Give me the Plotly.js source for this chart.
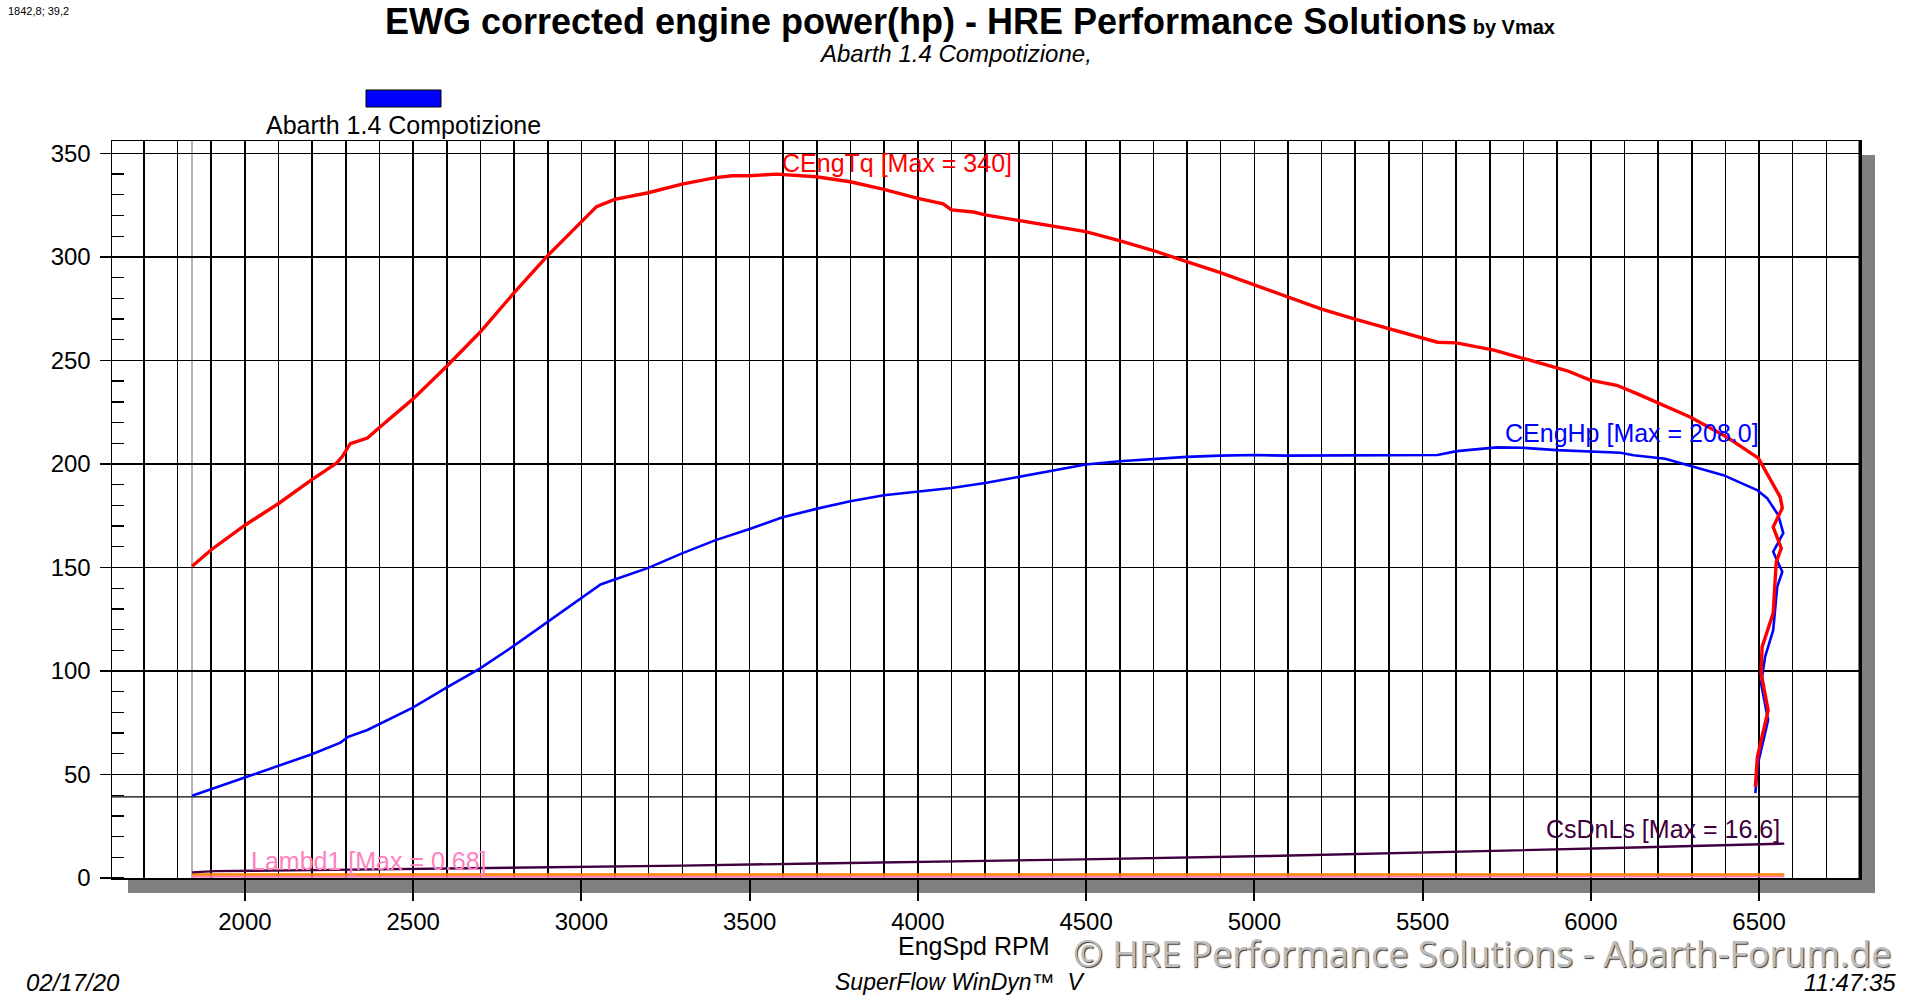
<!DOCTYPE html>
<html>
<head>
<meta charset="utf-8">
<script src="https://cdn.plot.ly/plotly-3.0.1.min.js"></script>
<style>
  body { margin: 0; background: #fff; overflow: hidden; }
  #tester { width: 1920px; height: 996px; }
</style>
</head>
<body>
<div id="tester"></div>
<script>
// engine speed / torque run (accel up to 6570 then rundown)
let tq_rpm = [1843, 1901, 2000, 2100, 2199, 2273, 2290, 2313, 2364, 2398, 2499, 2599, 2698, 2799, 2899, 2998, 3045, 3099, 3199, 3299, 3399, 3449, 3500, 3580, 3698, 3799, 3899, 4000, 4075, 4100, 4165, 4200, 4300, 4399, 4499, 4599, 4700, 4799, 4899, 5000, 5099, 5200, 5299, 5399, 5500, 5544, 5600, 5712, 5821, 5930, 5998, 6077, 6137, 6295, 6404, 6498, 6563, 6569, 6542, 6566, 6551, 6542, 6509, 6506, 6527, 6495, 6489];
let tq_val = [150.6, 158.7, 170.4, 180.9, 192.4, 200.5, 203.7, 209.8, 212.5, 217.4, 231.3, 247.1, 263.5, 282.5, 300.5, 317, 324.3, 327.8, 331, 335.2, 338.3, 339.2, 339.2, 340, 338.7, 336.3, 332.6, 328.3, 325.6, 322.7, 321.7, 320.3, 317.5, 315, 312.2, 307.9, 303.1, 297.7, 292.4, 286.5, 280.9, 274.8, 270, 265.3, 260.5, 258.8, 258.5, 255, 250, 245, 240.5, 238, 234, 222.7, 213, 202.8, 184, 178.7, 169.5, 159.3, 152.6, 128, 111.5, 99, 81, 58.4, 44];

let hp_rpm = [1843, 1901, 2000, 2100, 2199, 2284, 2307, 2364, 2400, 2499, 2599, 2698, 2799, 2899, 2998, 3057, 3099, 3199, 3299, 3399, 3500, 3598, 3698, 3799, 3899, 4000, 4100, 4200, 4300, 4399, 4499, 4599, 4700, 4799, 4899, 5000, 5099, 5299, 5500, 5544, 5602, 5721, 5800, 5899, 6088, 6127, 6221, 6296, 6394, 6494, 6524, 6557, 6572, 6542, 6569, 6554, 6542, 6518, 6506, 6527, 6497, 6489];
let hp_val = [39.7, 43, 48.6, 54.2, 59.8, 65.4, 68.2, 71.5, 74.3, 82.3, 92, 101.1, 112.1, 123.6, 134.9, 141.8, 144.2, 149.8, 156.8, 163.2, 168.6, 174.3, 178.3, 182, 184.9, 186.5, 188.4, 190.8, 193.7, 196.5, 199.7, 201.3, 202.4, 203.4, 204, 204.3, 204, 204, 204, 204.3, 206.2, 208, 207.8, 206.7, 205.4, 204.2, 202.5, 199, 194.6, 187.4, 183.5, 175.3, 166.6, 157.6, 147.9, 140.7, 119.7, 106.9, 94, 76.3, 55.5, 41];

let cs_rpm = [1843, 1910, 2200, 2450, 2700, 2930, 3300, 3700, 4080, 4490, 5040, 5590, 6130, 6575];
let cs_val = [2.7, 3.3, 3.8, 4.3, 4.6, 5.0, 6.0, 7.0, 7.9, 9.0, 10.6, 12.6, 14.7, 16.6];

let lambda_rpm = [1843, 3000, 4500, 6575];
let lambda_val = [0.62, 0.64, 0.66, 0.68];

let orange_rpm = [1843, 3000, 4500, 6575];
let orange_val = [1.7, 1.7, 1.7, 1.7];

let x_ticks = [2000, 2500, 3000, 3500, 4000, 4500, 5000, 5500, 6000, 6500];
let y_ticks = [0, 50, 100, 150, 200, 250, 300, 350];

let cursor = { rpm: 1842.8, val: 39.2 };

const FONT = 'Liberation Sans, Arial, sans-serif';

// plot area in px (1920x996 page)
const L = 112, R = 1860, T = 141, B = 878;
function px(x) { return (x - L) / (R - L); }
function py(y) { return (B - y) / (B - T); }

function PlotDyno() {

    let pink = {
        x: lambda_rpm, y: lambda_val, mode: 'lines', name: 'Lambd1',
        line: { color: '#ff80c0', width: 2 }
    };
    let orange = {
        x: orange_rpm, y: orange_val, mode: 'lines', name: 'aux',
        line: { color: '#ff8000', width: 2.5 }
    };
    let csdn = {
        x: cs_rpm, y: cs_val, mode: 'lines', name: 'CsDnLs',
        line: { color: '#400040', width: 2.4 }
    };
    let hp = {
        x: hp_rpm, y: hp_val, mode: 'lines', name: 'CEngHp',
        line: { color: '#0000ff', width: 2.6 }
    };
    let tq = {
        x: tq_rpm, y: tq_val, mode: 'lines', name: 'CEngTq',
        line: { color: '#ff0000', width: 3.4 }
    };

    let data = [pink, orange, csdn, hp, tq];

    let layout = {
        width: 1920,
        height: 996,
        margin: { l: L, r: 1920 - R, t: T, b: 996 - B, pad: 0 },
        paper_bgcolor: '#ffffff',
        plot_bgcolor: '#ffffff',
        showlegend: false,
        font: { family: FONT, color: '#000', size: 23 },
        xaxis: {
            range: [1605, 6800],
            tickvals: x_ticks,
            ticks: 'outside', ticklen: 21, tickwidth: 2, tickcolor: '#000',
            showline: true, linecolor: '#000', linewidth: 1.5, mirror: true,
            showgrid: true, gridcolor: '#000', gridwidth: 1.6,
            minor: { dtick: 100, tick0: 0, showgrid: true, gridcolor: '#000', gridwidth: 1.6, ticks: '' },
            zeroline: false,
            tickfont: { family: FONT, size: 24, color: '#000' },
            ticklabelstandoff: 1
        },
        yaxis: {
            range: [0, 356],
            tickvals: y_ticks,
            ticks: 'outside', ticklen: 11, tickwidth: 1.5, tickcolor: '#000',
            showline: true, linecolor: '#000', linewidth: 1.5, mirror: true,
            showgrid: true, gridcolor: '#000', gridwidth: 1.3,
            minor: { dtick: 10, tick0: 0, ticks: 'inside', ticklen: 12, tickwidth: 1.3, tickcolor: '#000', showgrid: false },
            zeroline: false,
            tickfont: { family: FONT, size: 24, color: '#000' },
            ticklabelstandoff: 4
        },
        shapes: [
            // drop shadow right + bottom
            { type: 'rect', xref: 'paper', yref: 'paper', layer: 'below',
              x0: 1, x1: px(1875), y0: py(155), y1: py(893),
              fillcolor: '#808080', line: { width: 0 } },
            { type: 'rect', xref: 'paper', yref: 'paper', layer: 'below',
              x0: px(128), x1: px(1875), y0: 0, y1: py(893),
              fillcolor: '#808080', line: { width: 0 } },
            // heavier right frame
            { type: 'line', xref: 'paper', yref: 'paper', x0: 1, x1: 1, y0: 0, y1: 1,
              line: { color: '#000', width: 3 } },
            // cursor lines
            { type: 'line', xref: 'x', yref: 'paper', x0: cursor.rpm, x1: cursor.rpm, y0: 0, y1: 1,
              layer: 'below', line: { color: '#666', width: 1 } },
            { type: 'line', xref: 'paper', yref: 'y', x0: 0, x1: 1, y0: cursor.val, y1: cursor.val,
              layer: 'below', line: { color: '#000', width: 1.3 } },
            // legend swatch
            { type: 'rect', xref: 'paper', yref: 'paper',
              x0: px(366), x1: px(441), y0: py(107), y1: py(90),
              fillcolor: '#0000ff', line: { color: '#000', width: 1 } }
        ],
        annotations: [
            {
                text: cursor.rpm.toString().replace('.', ',') + '; ' + cursor.val.toString().replace('.', ','),
                xref: 'paper', yref: 'paper', x: px(6), y: py(11),
                xanchor: 'left', yanchor: 'middle', showarrow: false,
                font: { family: FONT, size: 11, color: '#000' }
            },
            {
                text: '<b>EWG corrected engine power(hp) - HRE Performance Solutions</b><span style="font-size:20px"><b> by Vmax</b></span>',
                xref: 'paper', yref: 'paper', x: px(970), y: py(21),
                xanchor: 'center', yanchor: 'middle', showarrow: false,
                font: { family: FONT, size: 36, color: '#000' }
            },
            {
                text: '<i>Abarth 1.4 Compotizione,</i>',
                xref: 'paper', yref: 'paper', x: px(955), y: py(54),
                xanchor: 'center', yanchor: 'middle', showarrow: false,
                font: { family: FONT, size: 24, color: '#000' }
            },
            {
                text: 'Abarth 1.4 Compotizione',
                xref: 'paper', yref: 'paper', x: px(403), y: py(125),
                xanchor: 'center', yanchor: 'middle', showarrow: false,
                font: { family: FONT, size: 25, color: '#000' }
            },
            {
                text: 'CEngTq [Max = 340]',
                xref: 'x', yref: 'y', x: 3589, y: 345.5,
                xanchor: 'left', yanchor: 'middle', showarrow: false,
                font: { family: FONT, size: 25, color: '#ff0000' }
            },
            {
                text: 'CEngHp [Max = 208.0]',
                xref: 'x', yref: 'y', x: 5739, y: 215,
                xanchor: 'left', yanchor: 'middle', showarrow: false,
                font: { family: FONT, size: 25, color: '#0000ff' }
            },
            {
                text: 'CsDnLs [Max = 16.6]',
                xref: 'x', yref: 'y', x: 5860, y: 23.5,
                xanchor: 'left', yanchor: 'middle', showarrow: false,
                font: { family: FONT, size: 25, color: '#400040' }
            },
            {
                text: 'Lambd1 [Max = 0.68]',
                xref: 'x', yref: 'y', x: 2012, y: 8.3,
                xanchor: 'left', yanchor: 'middle', showarrow: false,
                font: { family: FONT, size: 25, color: '#ff80c0' }
            },
            {
                text: 'EngSpd RPM',
                xref: 'paper', yref: 'paper', x: px(973), y: py(946),
                xanchor: 'center', yanchor: 'middle', showarrow: false,
                font: { family: FONT, size: 25, color: '#000' }
            },
            {
                text: '© HRE Performance Solutions - Abarth-Forum.de',
                xref: 'paper', yref: 'paper', x: px(1482), y: py(953),
                xanchor: 'center', yanchor: 'middle', showarrow: false,
                font: { family: 'Open Sans, sans-serif', size: 36, color: '#bdbdbd', shadow: '1px 1px 1px #333333' }
            },
            {
                text: '<i>02/17/20</i>',
                xref: 'paper', yref: 'paper', x: px(24), y: py(982),
                xanchor: 'left', yanchor: 'middle', showarrow: false,
                font: { family: FONT, size: 24, color: '#000' }
            },
            {
                text: '<i>SuperFlow WinDyn™  V</i>',
                xref: 'paper', yref: 'paper', x: px(960), y: py(982),
                xanchor: 'center', yanchor: 'middle', showarrow: false,
                font: { family: FONT, size: 23, color: '#000' }
            },
            {
                text: '<i>11:47:35</i>',
                xref: 'paper', yref: 'paper', x: px(1898), y: py(982),
                xanchor: 'right', yanchor: 'middle', showarrow: false,
                font: { family: FONT, size: 24, color: '#000' }
            }
        ]
    };

    Plotly.newPlot('tester', data, layout, { displayModeBar: false, staticPlot: true });
}

PlotDyno();
</script>
</body>
</html>
